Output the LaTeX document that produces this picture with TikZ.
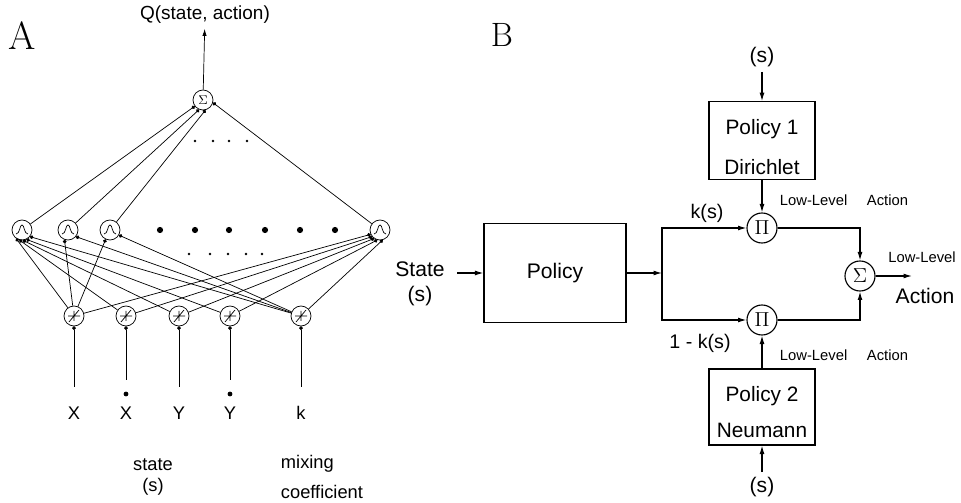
\documentclass[tikz,border=0pt]{standalone}
\usepackage{fontspec}
\newfontfamily\helv{Liberation Sans}
\usetikzlibrary{arrows.meta}
\begin{document}
\begin{tikzpicture}[x=0.025cm,y=-0.025cm,
  every node/.style={font=\helv\fontsize{15}{18}\selectfont},
  lbl/.style={font=\helv\fontsize{13}{15}\selectfont},
  small/.style={font=\helv\fontsize{10.5}{12}\selectfont},
  unit/.style={circle,draw,line width=0.5pt,inner sep=0pt,minimum size=0.5cm},
  op/.style={circle,draw,line width=0.8pt,inner sep=0pt,minimum size=0.75cm,font=\fontsize{14}{16}\selectfont},
  box/.style={draw,line width=0.8pt,align=center},
  wire/.style={line width=0.5pt,-{Circle[length=2.6pt]}},
  arr/.style={line width=0.8pt,-{Latex[length=6pt,width=3.5pt]}}]
\useasboundingbox (0,0) rectangle (961,503);

% A
\node[font=\fontsize{28}{30}\selectfont] (lA) at (22,36) {A};
\node[font=\helv\fontsize{13.5}{16}\selectfont] (q) at (205,15) {Q(state, action)};
\node[unit,font=\fontsize{9}{10}\selectfont] (sum) at (203,100) {$\Sigma$};
\draw[line width=0.5pt,-{Latex[length=5pt,width=3pt]}] (sum) -- (q);

\foreach \n/\x in {h1/22,h2/68,h3/110,h4/380}{
  \node[unit] (\n) at (\x,230) {};
  \draw[line width=0.5pt,shift={(\n.center)}] (-6,4) .. controls (-2,4) and (-2.5,-5) .. (0,-5) .. controls (2.5,-5) and (2,4) .. (6,4);
}
\foreach \n/\x in {i1/74,i2/126,i3/179,i4/230,i5/301}{
  \node[unit] (\n) at (\x,316) {};
  \draw[line width=0.5pt,shift={(\n.center)}] (-6,0) -- (6,0) (0,-5) -- (0,5) (-5,6) -- (5,-6);
}

\foreach \i/\a in {i1/235,i2/255,i3/275,i4/295,i5/320} \draw[wire] (\i) -- (h1.\a);
\foreach \i/\a in {i1/205,i2/220,i3/235,i4/255,i5/285} \draw[wire] (\i) -- (h4.\a);
\draw[wire] (i1) -- (h2.250);
\draw[wire] (i5) -- (h2.320);
\draw[wire] (i1) -- (h3.245);
\draw[wire] (i5) -- (h3.330);

\draw[wire] (h1) -- (sum.217);
\draw[wire] (h2) -- (sum.248);
\draw[wire] (h3) -- (sum.284);
\draw[wire] (h4) -- (sum.345);

\foreach \x in {195,213,229,247} \fill (\x,141) circle (0.9pt);
\foreach \x in {160,195,229,265,300,335} \fill (\x,230) circle (2.2pt);
\foreach \x in {189,210,228,246,262} \fill (\x,254) circle (1pt);

\foreach \i/\y in {i1/387,i2/380,i3/387,i4/380,i5/387} \draw[wire] (\i |- 0,\y) -- (\i);

\node[lbl] (l1) at (74,413) {X};
\node[lbl] (l2) at (126,413) {X};
\node[lbl] (l3) at (179,413) {Y};
\node[lbl] (l4) at (230,413) {Y};
\node[lbl] (l5) at (301,413) {k};
\fill (126,394) circle (1.7pt);
\fill (230,394) circle (1.7pt);

\node[align=center,font=\helv\fontsize{13}{15.6}\selectfont] (st) at (153,477) {state\\(s)};
\node[align=left,anchor=west,font=\helv\fontsize{13}{21}\selectfont] (mix) at (276,477) {mixing\\coefficient};

% B
\node[font=\fontsize{24}{26}\selectfont] (lB) at (502,35) {B};
\node[align=center,font=\helv\fontsize{15}{17.8}\selectfont] (st2) at (420,284) {State\\(s)};
\coordinate (sin) at (457,273);
\node[box,minimum width=3.55cm,minimum height=2.475cm] (pol) at (555,273) {Policy};
\draw[arr] (sin) -- (pol);
\coordinate (j) at (662,273);
\draw[arr] (pol) -- (j);

\node[op] (p1) at (762,228) {$\Pi$};
\node[op] (p2) at (762,320) {$\Pi$};
\node[op] (sg) at (860,276) {$\Sigma$};
\draw[arr] (j) |- (p1);
\draw[arr] (j) |- (p2);
\draw[arr] (p1) -| (sg);
\draw[arr] (p2) -| (sg);
\coordinate (out) at (912,276);
\draw[arr] (sg) -- (out);

\node[box,minimum width=2.65cm,minimum height=1.875cm,font=\helv\fontsize{14.8}{28.4}\selectfont] (pol1) at (762,140.5) {\rule{0pt}{20pt}Policy 1\\Dirichlet};
\node[box,minimum width=2.65cm,minimum height=1.9cm,font=\helv\fontsize{14.8}{25}\selectfont] (pol2) at (762,407) {\rule{0pt}{18pt}Policy 2\\Neumann};
\node (s1) at (762,57) {(s)};
\node (s2) at (762,487) {(s)};
\draw[arr] (s1) -- (pol1);
\draw[arr] (pol1) -- (p1);
\draw[arr] (pol2) -- (p2);
\draw[arr] (s2) -- (pol2);

\node[font=\helv\fontsize{14}{16}\selectfont] (ks) at (707,213) {k(s)};
\node[font=\helv\fontsize{14}{16}\selectfont] (mks) at (700,343) {1 - k(s)};
\node[small] (ll1) at (844,200) {Low-Level\hspace{14pt}Action};
\node[small] (ll2) at (844,355) {Low-Level\hspace{14pt}Action};
\node[small] (ll3) at (922,257) {Low-Level};
\node (act) at (925,296) {Action};
\end{tikzpicture}
\end{document}
